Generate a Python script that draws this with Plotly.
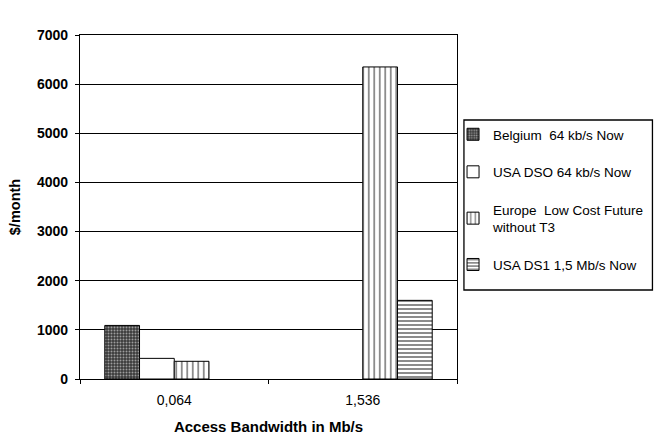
import plotly.graph_objects as go

categories = ["0,064", "1,536"]
series_names = ["Belgium  64 kb/s Now", "USA DSO 64 kb/s Now",
                "Europe  Low Cost Future<br>without T3", "USA DS1 1,5 Mb/s Now"]
belgium = [1090, None]
usa_dso = [420, None]
europe = [360, 6350]
usa_ds1 = [None, 1600]
y_ticks = [0, 1000, 2000, 3000, 4000, 5000, 6000, 7000]

W, H = 662, 446
L, R, T, B = 80, 202, 35, 67
pw, ph = W - L - R, H - T - B

patterns = [
    dict(shape=".", fgcolor="white", bgcolor="#3a3a3a", size=3, solidity=0.35),
    dict(shape="", fgcolor="black", bgcolor="white"),
    dict(shape="|", fgcolor="black", bgcolor="white", size=5.5, solidity=0.3),
    dict(shape="-", fgcolor="black", bgcolor="white", size=4, solidity=0.45),
]
data = [belgium, usa_dso, europe, usa_ds1]

fig = go.Figure()
for i, (name, vals, pat) in enumerate(zip(series_names, data, patterns)):
    fig.add_trace(go.Bar(
        x=categories, y=vals, name=name,
        marker=dict(color="white", line=dict(color="black", width=1), pattern=pat),
        legendgroup=str(i),
    ))

fig.update_layout(
    width=W, height=H,
    margin=dict(l=L, r=R, t=T, b=B),
    paper_bgcolor="white", plot_bgcolor="white",
    barmode="group", bargap=0.263, bargroupgap=0,
    font=dict(family="Liberation Sans, Arial, sans-serif", color="black", size=12),
    showlegend=True,
    legend=dict(
        x=(456 - L) / pw, xanchor="left",
        y=(H - B - 119) / ph, yanchor="top",
        bgcolor="rgba(0,0,0,0)", borderwidth=0,
        font=dict(size=13.5, color="black"),
        traceorder="grouped", tracegroupgap=17,
        itemwidth=30,
    ),
    shapes=[dict(type="rect", xref="paper", yref="paper",
                 x0=(467 - L) / pw, x1=(657 - L) / pw,
                 y0=(H - B - 290) / ph, y1=(H - B - 120) / ph,
                 line=dict(color="black", width=1.3), fillcolor="rgba(0,0,0,0)")],
)

fig.update_xaxes(
    showline=True, linecolor="black", linewidth=1.3, mirror=True,
    ticks="outside", tickson="boundaries", ticklen=4, tickcolor="black",
    tickfont=dict(size=14), ticklabelstandoff=8,
    title=dict(text="<b>Access Bandwidth in Mb/s</b>", font=dict(size=15), standoff=14),
)
fig.update_yaxes(
    range=[0, 7000], tickvals=y_ticks,
    showline=True, linecolor="black", linewidth=1.3, mirror=True,
    showgrid=True, gridcolor="black", gridwidth=1,
    ticks="outside", ticklen=4, tickcolor="black",
    tickfont=dict(size=14, family="Liberation Sans, Arial, sans-serif", weight="bold"),
    ticklabelstandoff=4,
    title=dict(text="<b>$/month</b>", font=dict(size=14.5), standoff=12),
    zeroline=False,
)

fig.write_html("out.html")
